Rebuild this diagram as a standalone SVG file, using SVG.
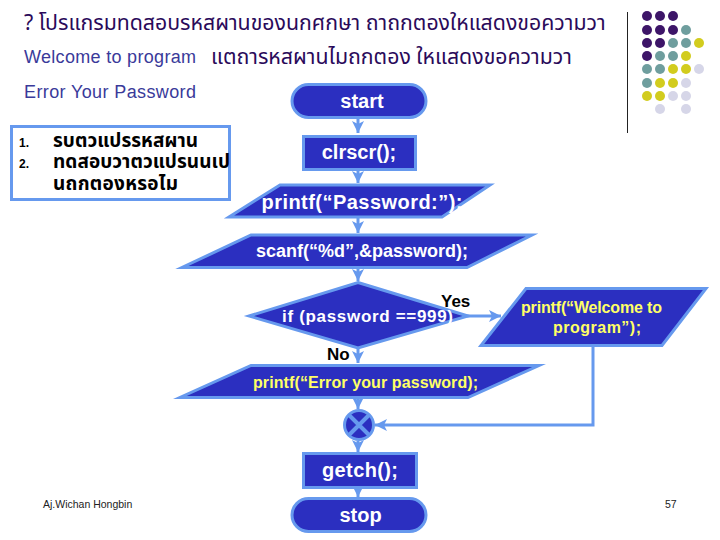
<svg xmlns="http://www.w3.org/2000/svg" width="720" height="540" viewBox="0 0 720 540">
<defs>
<marker id="arr" markerUnits="userSpaceOnUse" markerWidth="12" markerHeight="14" refX="12" refY="6" orient="auto"><path d="M0 0L12 6L0 12L3 6Z" fill="#6699ee"/></marker>
</defs>
<style>
.sh{fill:#2b2fc0;stroke:#6699ee;stroke-width:3;stroke-miterlimit:12}
.w{fill:#fff;font-family:"Liberation Sans",sans-serif;font-weight:700;text-anchor:middle}
.y{fill:#ffff66;font-family:"Liberation Sans",sans-serif;font-weight:700;text-anchor:middle;font-size:16px}
.th{fill:#2a0a5a;font-family:"Noto Sans","Noto Sans Thai",sans-serif;font-size:21.300px}
.bth{fill:#000;font-family:"Noto Sans","Noto Sans Thai",sans-serif;font-size:19px;font-weight:700}
.en{fill:#3a3a9a;font-family:"Liberation Sans",sans-serif;font-size:18px}
.k{fill:#000;font-family:"Liberation Sans",sans-serif;font-weight:700;font-size:17px}
.n{fill:#000;font-family:"Liberation Sans",sans-serif;font-weight:700;font-size:12px}
.c{stroke:#6699ee;stroke-width:3;fill:none;marker-end:url(#arr)}
.p{fill:#3d1568}.t{fill:#6f9e9e}.l{fill:#d2cc1e}.g{fill:#d6d6e8}
</style>
<text x="24" y="30" class="th">? โปรแกรมทดสอบรหสผานของนกศกษา ถาถกตองใหแสดงขอความวา</text>
<text x="24" y="63" class="en" textLength="172">Welcome to program</text>
<text x="211" y="64" class="th">แตถารหสผานไมถกตอง ใหแสดงขอความวา</text>
<text x="24" y="98" class="en" textLength="172">Error Your Password</text>
<g id="note">
<rect x="11.500" y="126.500" width="218" height="73" fill="#fff" stroke="#6699ee" stroke-width="3"/>
<text x="19" y="147" class="n">1.</text>
<text x="19" y="168" class="n">2.</text>
<text x="53" y="147" class="bth" textLength="145">รบตวแปรรหสผาน</text>
<text x="53" y="168" class="bth" textLength="177">ทดสอบวาตวแปรนนเป</text>
<text x="53" y="190" class="bth" textLength="125">นถกตองหรอไม</text>
</g>
<g id="rule"><line x1="627.500" y1="12" x2="627.500" y2="133" stroke="#222" stroke-width="1"/></g>
<g id="dots">
<circle class="p" cx="647" cy="16" r="5"/><circle class="p" cx="660" cy="16" r="5"/><circle class="p" cx="673" cy="16" r="5"/>
<circle class="p" cx="647" cy="30" r="5"/><circle class="p" cx="660" cy="30" r="5"/><circle class="p" cx="673" cy="30" r="5"/><circle class="t" cx="686" cy="30" r="5"/>
<circle class="p" cx="647" cy="43" r="5"/><circle class="p" cx="660" cy="43" r="5"/><circle class="t" cx="673" cy="43" r="5"/><circle class="t" cx="686" cy="43" r="5"/><circle class="l" cx="699" cy="43" r="5"/>
<circle class="p" cx="647" cy="56" r="5"/><circle class="t" cx="660" cy="56" r="5"/><circle class="t" cx="673" cy="56" r="5"/><circle class="l" cx="686" cy="56" r="5"/>
<circle class="t" cx="647" cy="69" r="5"/><circle class="t" cx="660" cy="69" r="5"/><circle class="l" cx="673" cy="69" r="5"/><circle class="l" cx="686" cy="69" r="5"/><circle class="g" cx="699" cy="69" r="5"/>
<circle class="t" cx="647" cy="83" r="5"/><circle class="l" cx="660" cy="83" r="5"/><circle class="l" cx="673" cy="83" r="5"/><circle class="g" cx="686" cy="83" r="5"/>
<circle class="l" cx="647" cy="96" r="5"/><circle class="l" cx="660" cy="96" r="5"/><circle class="g" cx="673" cy="96" r="5"/><circle class="g" cx="686" cy="96" r="5"/>
<circle class="g" cx="660" cy="109" r="5"/><circle class="g" cx="686" cy="109" r="5"/>
</g>
<g id="connectors">
<line class="c" x1="358" y1="118" x2="358" y2="133"/>
<line class="c" x1="358" y1="170" x2="358" y2="183"/>
<line class="c" x1="358" y1="217" x2="358" y2="233"/>
<line class="c" x1="358" y1="268" x2="358" y2="281"/>
<line class="c" x1="358" y1="348" x2="358" y2="363"/>
<line class="c" x1="358" y1="398" x2="358" y2="409"/>
<line class="c" x1="467" y1="316" x2="501" y2="316"/>
<polyline class="c" points="593,346 593,425 375,425"/>
<line class="c" x1="358" y1="441" x2="358" y2="452"/>
<line class="c" x1="358" y1="488" x2="358" y2="497"/>
</g>
<g id="start"><rect class="sh" x="292" y="84.500" width="134" height="33" rx="16.500"/><text class="w" x="362" y="108" style="font-size:20px">start</text></g>
<g id="clrscr"><rect class="sh" x="303.500" y="136.500" width="112" height="33"/><text class="w" x="359" y="159" style="font-size:20px">clrscr();</text></g>
<g id="print-password"><polygon class="sh" points="280,185 490,185 442,217 229,217"/><text class="w" x="362" y="209" style="font-size:20px" textLength="201">printf(“Password:”);</text></g>
<g id="scanf"><polygon class="sh" points="251,235 532,235 467,267.500 182,267.500"/><text class="w" x="362" y="257" style="font-size:18px" textLength="212">scanf(“%d”,&amp;password);</text></g>
<g id="decision"><polygon class="sh" points="358,282.500 468,316 358,348 249,316"/><text class="w" x="367.500" y="322" style="font-size:17px" textLength="171">if (password ==999)</text></g>
<g id="welcome"><polygon class="sh" points="526,288.500 706,288.500 662,345.500 481,345.500"/><text class="y" x="591.500" y="313" textLength="141">printf(“Welcome to</text><text class="y" x="597" y="333" textLength="88">program”);</text></g>
<g id="error"><polygon class="sh" points="251,365.500 539,365.500 468,397.500 180,397.500"/><text class="y" x="365.500" y="388" textLength="225">printf(“Error your password);</text></g>
<g id="join"><circle class="sh" cx="359" cy="425" r="14.500"/><path d="M349 415L369 435M369 415L349 435" stroke="#6699ee" stroke-width="4" fill="none"/></g>
<g id="getch"><rect class="sh" x="303.500" y="453.500" width="113" height="34"/><text class="w" x="360" y="477" style="font-size:20px" textLength="76">getch();</text></g>
<g id="stop"><rect class="sh" x="292" y="498.500" width="134" height="33" rx="16.500"/><text class="w" x="360.500" y="522" style="font-size:20px">stop</text></g>
<text class="k" x="441" y="307">Yes</text>
<text class="k" x="327" y="360">No</text>
<text x="43" y="508" font-family="Liberation Sans, sans-serif" font-size="10.500" fill="#222">Aj.Wichan Hongbin</text>
<text x="665" y="508" font-family="Liberation Sans, sans-serif" font-size="10.500" fill="#222">57</text>
</svg>
